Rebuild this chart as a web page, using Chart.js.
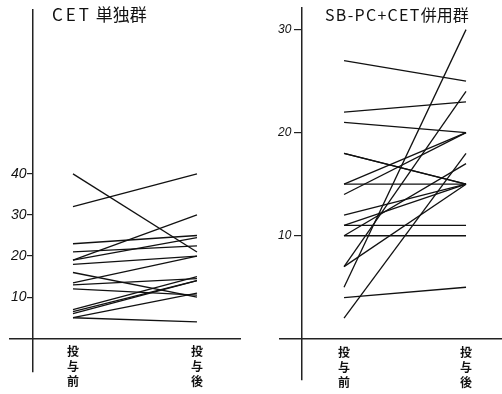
<!DOCTYPE html>
<html>
<head>
<meta charset="utf-8">
<style>
  body { margin: 0; background: #fff; }
  #wrap { position: relative; width: 502px; height: 394px; background: #fff; }
  canvas { position: absolute; top: 0; }
  .ttl { position: absolute; font-family: "Noto Sans CJK JP"; color: #111; white-space: nowrap; line-height: 1; }
</style>
</head>
<body>
<div id="wrap">
  <canvas id="left" width="251" height="394" style="left:0"></canvas>
  <canvas id="right" width="251" height="394" style="left:251px"></canvas>
  <div class="ttl" style="left:52px;top:5px;font-size:17px"><span style="letter-spacing:3px">CET</span> 単独群</div>
  <div class="ttl" style="left:325px;top:6px;font-size:16px"><span style="letter-spacing:1.3px">SB-PC+CET</span>併用群</div>
</div>
<script src="https://cdn.jsdelivr.net/npm/chart.js"></script>
<script>
// x categories (before / after dosing)
const categories = ['投与前', '投与後'];

// CET alone group
const cetPre  = [40, 32, 23, 21,   19, 19,   18, 16, 13.5, 13,   12,   7, 6.5, 6, 5, 5];
const cetPost = [21, 40, 25, 22.5, 30, 24.5, 20, 10, 20,   14.5, 10.5, 15, 14, 14, 11, 4];
const cetTicks = [10, 20, 30, 40];

// SB-PC + CET combined group
const combPre  = [27, 22, 21, 18, 18, 15, 15, 14, 12, 11, 11, 10, 10, 7, 7, 5, 4, 2];
const combPost = [25, 23, 20, 15, 15, 15, 20, 20, 15, 11, 15, 10, 17, 24, 15, 30, 5, 18];
const combTicks = [10, 20, 30];

function drawGroup(id, pre, post, ticks, g) {
  const datasets = pre.map((v, i) => ({
    data: [{x: 0, y: v}, {x: 1, y: post[i]}],
    borderColor: '#111',
    borderWidth: 1.3,
    pointRadius: 0,
    fill: false,
    tension: 0
  }));
  const setTicks = s => { s.ticks = ticks.map(v => ({value: v})); };

  new Chart(document.getElementById(id), {
    type: 'line',
    data: { datasets },
    options: {
      responsive: false,
      animation: false,
      layout: { padding: { top: g.top, right: g.right, bottom: g.bottom, left: 0 } },
      plugins: { legend: { display: false }, tooltip: { enabled: false } },
      scales: {
        x: {
          type: 'linear',
          min: g.xMin, max: g.xMax,
          position: { y: 0 },
          afterBuildTicks: s => { s.ticks = [{value: 0}, {value: 1}]; },
          grid: { display: false, drawTicks: false },
          border: { color: '#222', width: 1.5 },
          ticks: {
            autoSkip: false, maxRotation: 0, padding: 6,
            color: '#111',
            font: { family: 'Noto Sans CJK JP', size: 12, weight: 'bold', lineHeight: 1.25 },
            callback: v => Array.from(categories[v])
          }
        },
        y: {
          min: g.yMin, max: g.yMax,
          position: { x: g.axisX },
          afterBuildTicks: setTicks,
          grid: { drawOnChartArea: false, drawTicks: true, tickLength: g.tick, color: '#222', lineWidth: 1.2 },
          border: { color: '#222', width: 1.5 },
          ticks: { display: false }
        },
        yl: {
          axis: 'y',
          position: 'left',
          min: g.yMin, max: g.yMax,
          afterBuildTicks: setTicks,
          afterFit: s => { s.width = g.left; },
          grid: { display: false },
          border: { display: false },
          ticks: {
            mirror: true, crossAlign: 'far', padding: g.labelPad,
            color: '#111',
            font: { family: 'Liberation Sans', style: 'italic', size: g.font }
          }
        }
      }
    }
  });
}

drawGroup('left', cetPre, cetPost, cetTicks, {
  top: 8, bottom: 22, right: 11, left: 10,
  xMin: -0.508, xMax: 1.347, axisX: -0.323,
  yMin: -8.2, yMax: 80, tick: 5, labelPad: 1, font: 14
});

drawGroup('right', combPre, combPost, combTicks, {
  top: 8, bottom: 14, right: 0, left: 29,
  xMin: -0.525, xMax: 1.295, axisX: -0.344,
  yMin: -4, yMax: 32.1, tick: 7, labelPad: -2, font: 12
});
</script>
</body>
</html>
